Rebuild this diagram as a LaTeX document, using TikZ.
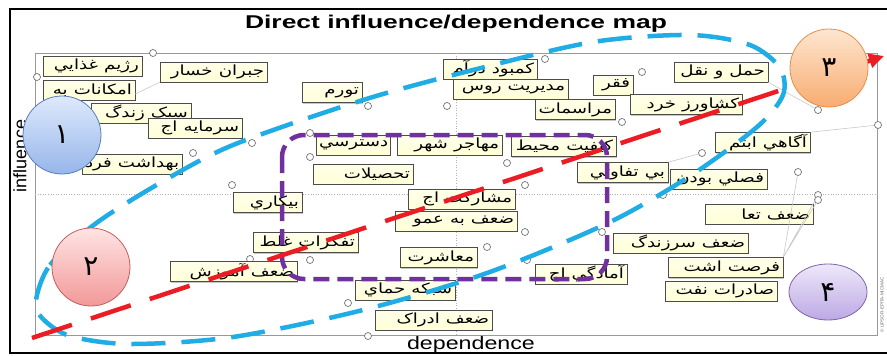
\documentclass[tikz,border=0pt]{standalone}
\usepackage{fontspec}
\setmainfont{Liberation Sans}
\newfontfamily\farsi[Script=Arabic]{DejaVu Sans}
\TeXXeTstate=1
\usetikzlibrary{arrows.meta,shadows,shapes.geometric}
\definecolor{cream}{RGB}{255,255,214}
\definecolor{curveblue}{RGB}{32,172,228}
\definecolor{curvered}{RGB}{236,28,36}
\definecolor{curvepurple}{RGB}{112,48,160}
\definecolor{oneline}{RGB}{90,125,190}
\definecolor{onetop}{RGB}{222,233,252}
\definecolor{onebot}{RGB}{150,182,234}
\definecolor{twoline}{RGB}{192,96,96}
\definecolor{twotop}{RGB}{255,228,228}
\definecolor{twobot}{RGB}{242,152,152}
\definecolor{threeline}{RGB}{232,142,72}
\definecolor{threetop}{RGB}{254,230,208}
\definecolor{threebot}{RGB}{248,172,112}
\definecolor{fourline}{RGB}{128,100,170}
\definecolor{fourtop}{RGB}{238,232,250}
\definecolor{fourbot}{RGB}{188,168,228}
\newcommand{\fatext}[1]{\scalebox{1.3}[1]{\farsi\beginR #1\endR}}

\begin{document}
\begin{tikzpicture}[x=1pt, y=-1pt,
  varbox/.style = {shape=rectangle, draw=black!70, line width=0.6pt,
    top color=cream!50, bottom color=cream, inner xsep=3pt, inner ysep=0pt,
    minimum height=20pt, text width=#1, align=right,
    font=\fontsize{14}{14}\selectfont,
    drop shadow={shadow xshift=1.3pt, shadow yshift=-1.3pt, opacity=0.45}},
  varpt/.style = {circle, draw=black!55, fill=white, line width=0.7pt,
    inner sep=0pt, minimum size=7pt},
  lead/.style = {draw=black!22, line width=0.6pt},
  zone/.style = {circle, line width=0.8pt, minimum size=78pt,
    font=\farsi\fontsize{28}{28}\selectfont}]
  \useasboundingbox (0,0) rectangle (887,356);

  % frame, plot area and axes
  \draw[line width=1.4pt] (895,9) -- (10,9) -- (10,353) -- (895,353);
  \draw[black!40, line width=0.8pt] (35,53) rectangle (877,335);
  \draw[black!30, dotted, line width=0.6pt] (456,53) -- (456,335) (35,194) -- (877,194);
  \node[font=\bfseries\fontsize{18.5}{19}\selectfont, anchor=base] (title) at (456,28)
    {\scalebox{1.43}[1]{Direct influence/dependence map}};
  \node[font=\fontsize{18}{18}\selectfont, anchor=base] (xaxis) at (471,349)
    {\scalebox{1.29}[1]{dependence}};
  \node[font=\fontsize{18}{18}\selectfont, rotate=90] (yaxis) at (20,156) {influence};
  \node[font=\fontsize{4.5}{5}\selectfont, text=black!60, rotate=90] (copy) at (882,305)
    {© LIPSOR-EPITA-MICMAC};

  % points
  \foreach \px/\py [count=\i] in {153/53, 37/77, 193/153, 252/143, 368/106, 545/59,
      447/106, 622/122, 642/72, 818/110, 878/125, 702/153, 798/172, 818/195,
      818/200, 663/195, 602/232, 525/185, 525/232, 487/247, 507/163, 310/133,
      310/157, 232/185, 310/260, 250/259, 348/303, 368/336, 527/260}
    \node[varpt] (p\i) at (\px,\py) {};

  % variables
  \node[varbox=93pt] (rejim) at (92.5,66) {\fatext{رژيم غذايي}};
  \node[varbox=101pt] (jobran) at (213.5,72) {\fatext{جبران خسار}};
  \node[varbox=86pt] (emkanat) at (89,90) {\fatext{امکانات به}};
  \node[varbox=94pt] (sabk) at (141,113) {\fatext{سبک زندگ}};
  \node[varbox=88pt] (sarmaye) at (195,128) {\fatext{سرمايه اج}};
  \node[varbox=94pt] (behdasht) at (132,164) {\fatext{بهداشت فرد}};
  \node[varbox=54pt] (tavarom) at (332,92.5) {\fatext{تورم}};
  \node[varbox=88pt] (kambud) at (490,69) {\fatext{کمبود درآم}};
  \node[varbox=109pt] (modiriat) at (510.5,89) {\fatext{مديريت روس}};
  \node[varbox=74pt] (marasemat) at (575,109.5) {\fatext{مراسمات}};
  \node[varbox=34pt] (faghr) at (613,85) {\fatext{فقر}};
  \node[varbox=88pt] (haml) at (721,72) {\fatext{حمل و نقل}};
  \node[varbox=106pt] (keshavarz) at (686,104.5) {\fatext{کشاورز خرد}};
  \node[varbox=68pt] (dastresi) at (353,145) {\fatext{دسترسي}};
  \node[varbox=99pt] (mohajer) at (449.5,145) {\fatext{مهاجر شهر}};
  \node[varbox=99pt] (keyfiat) at (563.5,146.5) {\fatext{کيفيت محيط}};
  \node[varbox=94pt] (tahsilat) at (363,174) {\fatext{تحصيلات}};
  \node[varbox=89pt] (agahi) at (762.5,142.5) {\fatext{آگاهي ابتم}};
  \node[varbox=85pt] (bitafavoti) at (622.5,172.5) {\fatext{بي تفاوتي}};
  \node[varbox=91pt] (fasli) at (718.5,179) {\fatext{فصلي بودن}};
  \node[varbox=63pt] (bikari) at (267.5,202.5) {\fatext{بيکاري}};
  \node[varbox=101pt] (mosharekat) at (461.5,199) {\fatext{مشارکت اج}};
  \node[varbox=116pt] (zafamumi) at (456,221) {\fatext{ضعف به عمو}};
  \node[varbox=99pt] (tafakorat) at (305.5,242.5) {\fatext{تفکرات غلط}};
  \node[varbox=71pt] (moasherat) at (438.5,257.5) {\fatext{معاشرت}};
  \node[varbox=121pt] (amuzesh) at (233.5,271.5) {\fatext{ضعف آموزش}};
  \node[varbox=86pt] (amadegi) at (581,274) {\fatext{آمادگي اج}};
  \node[varbox=94pt] (shabake) at (405,290) {\fatext{شبکه حماي}};
  \node[varbox=111pt] (edrak) at (433.5,320) {\fatext{ضعف ادراک}};
  \node[varbox=102pt] (taavon) at (759,214) {\fatext{ضعف تعا}};
  \node[varbox=129pt] (sarzendegi) at (680.5,243) {\fatext{ضعف سرزندگ}};
  \node[varbox=109pt] (forsat) at (725.5,267.5) {\fatext{فرصت اشت}};
  \node[varbox=106pt] (saderat) at (721,291) {\fatext{صادرات نفت}};

  % leader lines
  \draw[lead] ([yshift=-4pt]emkanat.east) -- (jobran.south west);
  \draw[lead] (haml.south east) -- (p10);
  \draw[lead] (p11) -- (agahi.north east);
  \draw[lead] (p12) -- (bitafavoti.north east);
  \draw[lead] (p13) -- (forsat.north east) (p14) -- (forsat.north east)
    (p15) -- (forsat.north east);

  % groups and trend
  \draw[curvepurple, line width=4.5pt, dash pattern=on 16pt off 8pt, rounded corners=22pt]
    (282,135) rectangle (607,279);
  \draw[curveblue, line width=4.5pt, dash pattern=on 34pt off 16pt]
    plot[smooth cycle] coordinates {(36,300) (50,265) (95,224) (160,183) (233,145)
      (363,100) (473,70) (593,42) (690,35) (750,45) (780,68) (783,95) (757,127)
      (690,176) (608,223) (487,273) (363,310) (233,337) (130,344) (70,336) (42,318)};
  \coordinate (trendstart) at (32,338);
  \coordinate (trendend) at (884,56);
  \draw[curvered, line width=4.5pt, dash pattern=on 42pt off 20pt,
    -{Triangle[length=15pt, width=14pt]}] (trendstart) -- (trendend);

  % zones
  \node[zone, draw=oneline, top color=onetop, bottom color=onebot] (z1) at (62,135) {۱};
  \node[zone, draw=twoline, top color=twotop, bottom color=twobot] (z2) at (91,267) {۲};
  \node[zone, draw=threeline, top color=threetop, bottom color=threebot] (z3) at (829,68) {۳};
  \node[zone, ellipse, minimum width=78pt, minimum height=56pt, draw=fourline,
    top color=fourtop, bottom color=fourbot] (z4) at (828,292) {۴};
\end{tikzpicture}
\end{document}
